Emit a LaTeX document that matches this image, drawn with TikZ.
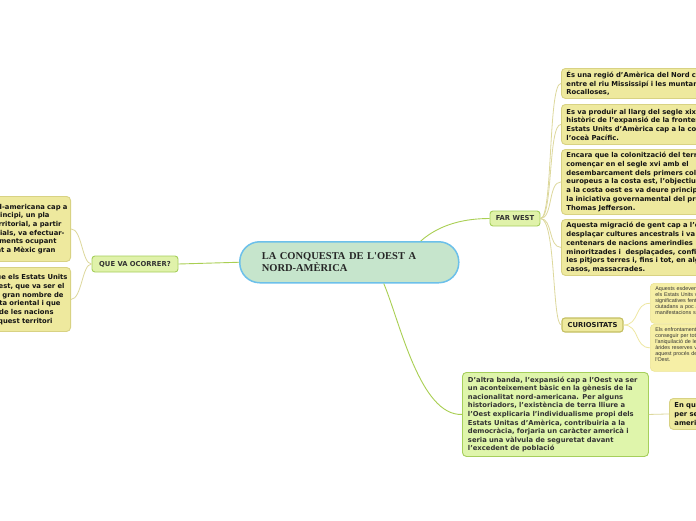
\documentclass[tikz,border=0pt]{standalone}
\usepackage{fontspec}
\setmainfont{DejaVu Sans}
\newfontfamily\serifb{Liberation Serif}
\newfontfamily\smallf{Liberation Sans}
\definecolor{cfill}{HTML}{C6E5CC}
\definecolor{cbord}{HTML}{6CC0EA}
\definecolor{gfill}{HTML}{E0F2AA}
\definecolor{gbord}{HTML}{A6CF5C}
\definecolor{bfill}{HTML}{DFF5AB}
\definecolor{yfill}{HTML}{EEE99E}
\definecolor{ybord}{HTML}{D8D283}
\definecolor{curbord}{HTML}{C4BF62}
\definecolor{sfill}{HTML}{F6EFA6}
\definecolor{sbord}{HTML}{ECE494}
\definecolor{gline}{HTML}{A9CF52}
\definecolor{yline}{HTML}{DDD89C}
\definecolor{sline}{HTML}{EEE7A2}
\definecolor{txt}{HTML}{333333}
\begin{document}
\begin{tikzpicture}[x=1pt,y=-1pt,
  central/.style={draw=cbord, fill=cfill, line width=1.5pt, rounded corners=20pt,
    minimum height=41pt, text width=175pt, inner xsep=22pt, inner ysep=0pt, align=left,
    anchor=north west, text=black!85, font=\serifb\bfseries\fontsize{10.5}{12}\selectfont},
  gnode/.style={draw=gbord, fill=gfill, line width=0.9pt, rounded corners=3pt, inner sep=0pt,
    text=txt, font=\bfseries\fontsize{6.8}{8.7}\selectfont},
  curnode/.style={draw=curbord, fill=yfill, line width=1.1pt, rounded corners=3pt, inner sep=0pt,
    text=black!90, font=\bfseries\fontsize{6.8}{8.7}\selectfont},
  ybox/.style={draw=ybord, fill=yfill, line width=0.9pt, rounded corners=4pt, inner xsep=5pt,
    inner ysep=0pt, align=left, anchor=north west, text width=170pt, text=black!92,
    font=\bfseries\fontsize{6.8}{8.7}\selectfont},
  lbox/.style={ybox, align=right, anchor=north east, text width=250pt, inner xsep=3pt},
  gbox/.style={draw=gbord, fill=bfill, line width=0.9pt, rounded corners=4pt, inner xsep=5.5pt,
    inner ysep=0pt, align=left, anchor=north west, text width=175pt, text=txt,
    font=\bfseries\fontsize{6.8}{8.6}\selectfont},
  sbox/.style={draw=sbord, fill=sfill, line width=0.6pt, rounded corners=4pt, inner xsep=5pt,
    inner ysep=0pt, align=left, anchor=north west, text width=130pt, text=txt,
    font=\smallf\fontsize{5.4}{6.1}\selectfont},
  gcon/.style={draw=gline, line width=0.9pt},
  ycon/.style={draw=yline, line width=0.8pt},
  scon/.style={draw=sline, line width=0.8pt}
]
\useasboundingbox (0,0) rectangle (696,520);
\clip (0,0) rectangle (696,520);
\fill[white] (0,0) rectangle (696,520);

% central
\node[central] (c) at (239,241) {LA CONQUESTA DE L'OEST A\\NORD-AMÈRICA};

% left branch
\node[gnode, minimum width=86pt, minimum height=16pt] (q) at (135,264) {QUE VA OCORRER?};
\node[lbox, minimum height=65pt] (l1) at (71,196) {L'expansió nord-americana cap a\\
l'oest va ser, en principi, un pla\kern18pt\\
d'engrandiment territorial, a partir\kern6pt\\
del qual els colonials, va efectuar-\kern3pt\\
se en diferents moments ocupant\kern11pt\\
territoris fins arribat a Mèxic gran\kern12pt};
\node[lbox, minimum height=64pt] (l2) at (71,267) {Aquest procés va fer que els Estats Units\\
s'expandissin cap a l'oest, que va ser el\kern3pt\\
territori escollit per un gran nombre de\kern4pt\\
colons de la costa oriental i que\kern7pt\\
va comportar l'expulsió de les nacions\kern14pt\\
ameríndies que habitaven aquest territori\kern15pt};

% right branch
\node[gnode, minimum width=50pt, minimum height=15pt] (fw) at (515,218.5) {FAR WEST};
\node[ybox, minimum height=30pt] (r1) at (561,68) {És una regió d'Amèrica del Nord compresa\\
entre el riu Mississipí i les muntanyes\\
Rocalloses,};
\node[ybox, minimum height=40pt] (r2) at (561,104) {Es va produir al llarg del segle xix el procés\\
històric de l'expansió de la frontera dels\\
Estats Units d'Amèrica cap a la costa de\\
l'oceà Pacífic.};
\node[ybox, minimum height=65pt] (r3) at (561,149) {Encara que la colonització del territori va\\
començar en el segle xvi amb el\\
desembarcament dels primers colons\\
europeus a la costa est, l'objectiu d'arribar\\
a la costa oest es va deure principalment a\\
la iniciativa governamental del president\\
Thomas Jefferson.};
\node[ybox, minimum height=56pt] (r4) at (561,219) {Aquesta migració de gent cap a l'oest va\\
desplaçar cultures ancestrals i va deixar\\
centenars de nacions amerindies\\
minoritzades i \ desplaçades, confinades a\\
les pitjors terres i, fins i tot, en alguns\\
casos, massacrades.};
\node[curnode, minimum width=61pt, minimum height=14pt] (cur) at (592.5,325) {CURIOSITATS};
\node[sbox, minimum height=40pt] (s1) at (650,283) {Aquests esdeveniments van fer que\\
els Estats Units visquessin canvis\\
significatives fent que molts\\
ciutadans a poc a poc fessin\\
manifestacions socials\\~};
\node[sbox, minimum height=47pt] (s2) at (650,324) {Els enfrontaments per\\
conseguir per tots els mitjans\\
l'aniquilació de les tribus i les\\
àrides reserves van marcar\\
aquest procés de conquesta de\\
l'Oest.\\~};

% bottom branch
\node[gbox, minimum height=84pt] (b) at (462,372) {D'altra banda, l'expansió cap a l'Oest va ser\\
un aconteixement bàsic en la gènesis de la\\
nacionalitat nord-americana. Per alguns\\
historiadors, l'existència de terra lliure a\\
l'Oest explicaria l'individualisme propi dels\\
Estats Unitas d'Amèrica, contribuiria a la\\
democràcia, forjaria un caràcter americà i\\
seria una vàlvula de seguretat davant\\
l'excedent de població};
\node[ybox, minimum height=31pt, text width=80pt] (br) at (669,398) {En quin moment\\
per ser\\
americans};

% connectors
\draw[gcon] (c.west) -- (q.east);
\draw[gcon] ([xshift=71.5pt]c.north) .. controls (440,224) and (465,218.5) .. (fw.west);
\draw[gcon] ([xshift=34.5pt]c.south) .. controls (400,322) and (420,416) .. (b.west);
\draw[ycon] (q.west) .. controls (82,264) and (82,228.5) .. (l1.east);
\draw[ycon] (q.west) .. controls (82,264) and (82,299) .. (l2.east);
\draw[ycon] (fw.east) .. controls (553,218.5) and (548,83) .. (r1.west);
\draw[ycon] (fw.east) .. controls (553,218.5) and (548,124) .. (r2.west);
\draw[ycon] (fw.east) .. controls (553,218.5) and (548,181.5) .. (r3.west);
\draw[ycon] (fw.east) .. controls (553,218.5) and (548,247) .. (r4.west);
\draw[ycon] (fw.east) .. controls (556,218.5) and (552,325) .. (cur.west);
\draw[scon] (cur.east) .. controls (640,325) and (634,303) .. (s1.west);
\draw[scon] (cur.east) .. controls (640,325) and (634,347.5) .. (s2.west);
\draw[ycon] (b.east) -- (br.west);
\end{tikzpicture}
\end{document}
